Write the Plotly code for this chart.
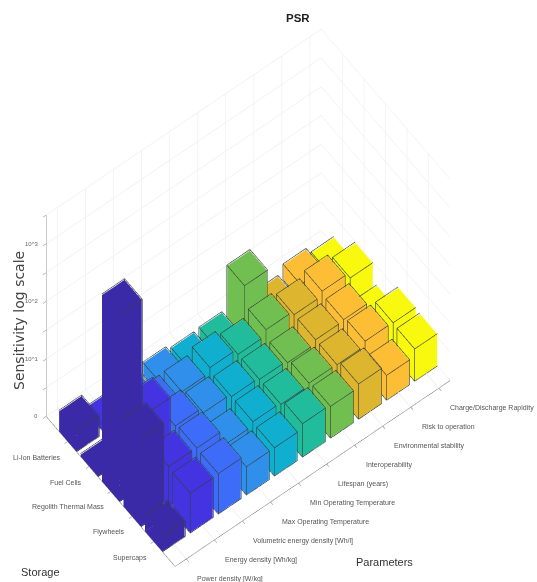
import plotly.graph_objects as go

storage = ["Li-Ion Batteries", "Fuel Cells", "Regolith Thermal Mass", "Flywheels", "Supercaps"]
parameters = ["Power density [W/kg]", "Energy density [Wh/kg]", "Volumetric energy density [Wh/l]",
              "Max Operating Temperature", "Min Operating Temperature", "Lifespan (years)",
              "Interoperability", "Environmental stability", "Risk to operation", "Charge/Discharge Rapidity"]
# log10-scale bar heights, one list per parameter, in storage order
power = [0.35, 0.03, 3.24, 1.52, 0.26]
energy = [0.10, 0.50, 1.20, 0.71, 0.68]
volumetric = [0.12, 0.47, 0.65, 0.70, 0.69]
max_temp = [0.20, 0.48, 0.55, 0.43, 0.48]
min_temp = [0.13, 0.57, 0.50, 0.50, 0.48]
lifespan = [0.15, 0.47, 0.47, 0.47, 0.57]
interop = [0.90, 0.57, 0.43, 0.51, 0.54]
env_stab = [0.12, 0.50, 0.50, 0.50, 0.60]
risk = [0.26, 0.58, 0.52, 0.58, 0.42]
rapidity = [0.14, 0.48, 0.17, 0.57, 0.55]
series = [power, energy, volumetric, max_temp, min_temp, lifespan, interop, env_stab, risk, rapidity]
colors = ["#3B2AA8", "#4433E0", "#3C6CF8", "#2F8FEA", "#10AFD0", "#20BC9C",
          "#70BF50", "#DDB52E", "#FDBE35", "#F9F90F"]
z_ticks = [0, 1, 2, 3]
z_labels = ["0", "10^1", "10^2", "10^3"]
z_grid = [0, 0.5, 1, 1.5, 2, 2.5, 3, 3.5]
bar_w = 0.8
edge_pad = 0.012

fig = go.Figure()
lx, ly, lz = [], [], []
for p, (vals, col) in enumerate(zip(series, colors), start=1):
    vx, vy, vz, ii, jj, kk = [], [], [], [], [], []
    for s, h in enumerate(vals, start=1):
        n = len(vx)
        x0, x1, y0, y1 = s - bar_w / 2, s + bar_w / 2, p - bar_w / 2, p + bar_w / 2
        vx += [x0, x1, x1, x0, x0, x1, x1, x0]
        vy += [y0, y0, y1, y1, y0, y0, y1, y1]
        vz += [0, 0, 0, 0, h, h, h, h]
        for a, b, c in [(0, 1, 2), (0, 2, 3), (4, 5, 6), (4, 6, 7), (0, 1, 5), (0, 5, 4),
                        (1, 2, 6), (1, 6, 5), (2, 3, 7), (2, 7, 6), (3, 0, 4), (3, 4, 7)]:
            ii.append(n + a); jj.append(n + b); kk.append(n + c)
        # edges sit just outside the faces so that the depth test keeps them whole
        ex = [x0 - edge_pad, x1 + edge_pad, x1 + edge_pad, x0 - edge_pad] * 2
        ey = [y0 - edge_pad, y0 - edge_pad, y1 + edge_pad, y1 + edge_pad] * 2
        ez = [0] * 4 + [h + edge_pad] * 4
        for a, b in [(4, 5), (5, 6), (6, 7), (7, 4), (0, 1), (1, 2), (0, 4), (1, 5), (2, 6), (3, 7)]:
            lx += [ex[a], ex[b], None]
            ly += [ey[a], ey[b], None]
            lz += [ez[a], ez[b], None]
    fig.add_trace(go.Mesh3d(x=vx, y=vy, z=vz, i=ii, j=jj, k=kk, color=col, flatshading=True,
                            lighting=dict(ambient=1, diffuse=0, specular=0, fresnel=0),
                            hoverinfo="skip", showlegend=False))
fig.add_trace(go.Scatter3d(x=lx, y=ly, z=lz, mode="lines", line=dict(color="#33403A", width=1.2),
                           hoverinfo="skip", showlegend=False))

x_lo, x_hi, y_lo = 0, 6, 0.6
tick_font = dict(family="Liberation Sans", size=7, color="#555")
scene_notes = []
for s, name in enumerate(storage, start=1):
    scene_notes.append(dict(x=s, y=y_lo, z=0, text=name, showarrow=False, xanchor="right", yanchor="middle",
                            xshift=-5, yshift=-16, font=tick_font))
for p, name in enumerate(parameters, start=1):
    scene_notes.append(dict(x=x_hi, y=p, z=0, text=name, showarrow=False, xanchor="left", yanchor="middle",
                            xshift=9, yshift=-20, font=tick_font))
for v, name in zip(z_ticks, z_labels):
    scene_notes.append(dict(x=x_lo, y=y_lo, z=v, text=name, showarrow=False, xanchor="right", yanchor="middle",
                            xshift=-6, yshift=0, font=dict(family="Liberation Sans", size=6, color="#666")))

axis_common = dict(title=dict(text=""), gridcolor="#F1F1F1", showbackground=False, showline=True,
                   linecolor="#777", ticks="outside", ticklen=4, tickcolor="#777", showticklabels=False,
                   showspikes=False, zeroline=False)
fig.update_layout(
    width=537, height=582, margin=dict(l=0, r=0, t=0, b=0),
    paper_bgcolor="white", showlegend=False,
    scene=dict(
        domain=dict(x=[0, 1], y=[0, 1]),
        aspectmode="manual", aspectratio=dict(x=0.731, y=1.188, z=1.499),
        camera=dict(projection=dict(type="orthographic"),
                    eye=dict(x=0.9345, y=-0.6244, z=2.206), center=dict(x=0.0425, y=0.0556, z=0.051),
                    up=dict(x=0, y=0, z=1)),
        xaxis=dict(range=[x_lo, x_hi], tickvals=[1, 2, 3, 4, 5], **axis_common),
        yaxis=dict(range=[y_lo, 10.4], tickvals=list(range(1, 11)), **axis_common),
        zaxis=dict(range=[0, 3.5], tickvals=z_grid, **axis_common),
        annotations=scene_notes,
    ),
    annotations=[
        dict(text="<b>PSR</b>", x=298 / 537, y=1 - 18 / 582, xref="paper", yref="paper", showarrow=False,
             xanchor="center", yanchor="middle", font=dict(family="Liberation Sans", size=11.5, color="#222")),
        dict(text="Sensitivity log scale", x=19 / 537, y=1 - 321 / 582, xref="paper", yref="paper",
             xanchor="center", yanchor="middle", showarrow=False, textangle=-90,
             font=dict(family="DejaVu Sans", size=14, color="#444")),
        dict(text="Storage", x=40 / 537, y=1 - 572 / 582, xref="paper", yref="paper", showarrow=False,
             xanchor="center", yanchor="middle", font=dict(family="Liberation Sans", size=11, color="#333")),
        dict(text="Parameters", x=384 / 537, y=1 - 562 / 582, xref="paper", yref="paper", showarrow=False,
             xanchor="center", yanchor="middle", font=dict(family="Liberation Sans", size=11, color="#333")),
    ],
)
fig.write_html("out.html", config={"displayModeBar": False}, post_script="document.body.style.margin='0';")
